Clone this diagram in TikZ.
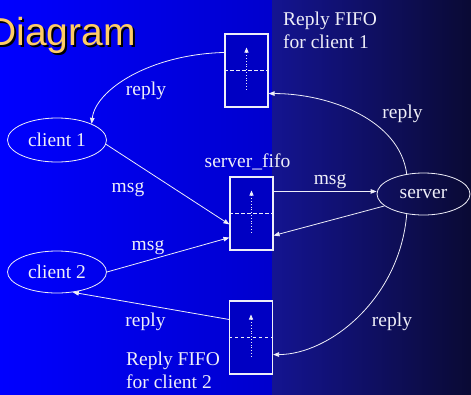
\documentclass[tikz,border=0pt]{standalone}
\usepackage{fontspec}
\setmainfont{Liberation Serif}
\newfontfamily\titlefont{Liberation Sans}
\usetikzlibrary{arrows.meta,shapes.geometric,calc}

\definecolor{bgblueL}{RGB}{0,0,255}
\definecolor{bgblueM}{RGB}{0,0,205}
\definecolor{bgnavyL}{RGB}{20,20,145}
\definecolor{bgnavyR}{RGB}{10,10,52}
\definecolor{fifofill}{RGB}{0,0,195}
\definecolor{ink}{RGB}{238,238,248}
\definecolor{titleyellow}{RGB}{255,204,102}

\tikzset{
  lbl/.style={font=\fontsize{19.5}{23}\selectfont, text=ink, inner sep=0pt, anchor=base},
  lblw/.style={lbl, anchor=base west},
  proc/.style={ellipse, draw=ink, line width=0.8pt, inner sep=0pt,
               font=\fontsize{19.5}{23}\selectfont, text=ink},
  fifo/.style={rectangle, draw=ink, line width=1.1pt, fill=fifofill,
               minimum width=43pt, minimum height=73pt, inner sep=0pt},
  conn/.style={draw=ink, line width=0.8pt,
               -{Triangle[length=6pt,width=4.5pt]}},
  flowmark/.style={draw=ink, line width=0.8pt, dotted,
               -{Triangle[length=5pt,width=4pt]}},
  levelmark/.style={draw=ink, line width=1pt, dash pattern=on 3.5pt off 2.5pt},
  titletext/.style={anchor=base west, inner sep=0pt,
               font=\titlefont\fontsize{39}{39}\selectfont},
}

\begin{document}
\begin{tikzpicture}[x=1pt,y=-1pt]
  \useasboundingbox (0,0) rectangle (471,394);

  % background: bright blue on the left, dark navy on the right
  \shade[left color=bgblueL, right color=bgblueM] (0,0) rectangle (272,394);
  \shade[left color=bgnavyL, right color=bgnavyR] (272,0) rectangle (471,394);

  % title with drop shadow
  \node[titletext, text=black] (titleshadow) at (-10,47.5) {Diagram};
  \node[titletext, text=titleyellow] (title) at (-12,45) {Diagram};

  % processes
  \node[proc, minimum width=99pt, minimum height=44pt] (c1) at (57,140) {client 1};
  \node[proc, minimum width=99pt, minimum height=42pt] (c2) at (57,272) {client 2};
  \node[proc, minimum width=93pt, minimum height=42pt] (s) at (423.5,194) {server};

  % FIFOs
  \node[fifo] (b1) at (246.5,70.5) {};
  \node[fifo] (sf) at (251.5,213.5) {};
  \node[fifo] (b2) at (251,337.5) {};

  \foreach \b in {b1,sf,b2}{
    \draw[levelmark] (\b.west) -- (\b.east);
    \draw[flowmark] ($(\b.center)+(0,19)$) -- ($(\b.center)+(0,-23)$);
  }

  % FIFO captions
  \node[lblw] (r1a) at (283,25) {Reply FIFO};
  \node[lblw] (r1b) at (283,48) {for client 1};
  \node[lbl] (sfl) at (247.5,167) {server\_fifo};
  \node[lblw] (r2a) at (126,365) {Reply FIFO};
  \node[lblw] (r2b) at (126,388) {for client 2};

  % client requests into server_fifo
  \draw[conn] (c1.-5) -- ($(sf.north west)+(0,48)$);
  \draw[conn] (c2.east) -- ($(sf.south west)+(0,-13)$);
  \node[lbl] (msg1) at (128,192) {msg};
  \node[lbl] (msg2) at (148,250) {msg};

  % server reads server_fifo
  \coordinate (sfout) at ($(sf.north east)+(0,15)$);
  \draw[conn] (sfout) -- (sfout -| s.west);
  \node[lbl] (msg3) at (330,184) {msg};
  \draw[conn] (s.-163) -- ($(sf.south east)+(0,-15)$);

  % replies to client 1
  \draw[conn] (s.130) .. controls +(-7,-54) and +(61,0) .. ($(b1.south east)+(0,-14)$);
  \node[lbl] (rp1) at (402.5,118) {reply};
  \draw[conn] ($(b1.north west)+(0,19)$) .. controls +(-75,2) and +(4,-34) .. (c1.25);
  \node[lbl] (rp2) at (146,95) {reply};

  % replies to client 2
  \draw[conn] (s.-130) .. controls +(-7,85) and +(56,0) .. ($(b2.south east)+(0,-20)$);
  \node[lbl] (rp3) at (392,326) {reply};
  \draw[conn] ($(b2.north west)+(0,19)$) -- (c2.-52);
  \node[lbl] (rp4) at (145.5,326) {reply};
\end{tikzpicture}
\end{document}
